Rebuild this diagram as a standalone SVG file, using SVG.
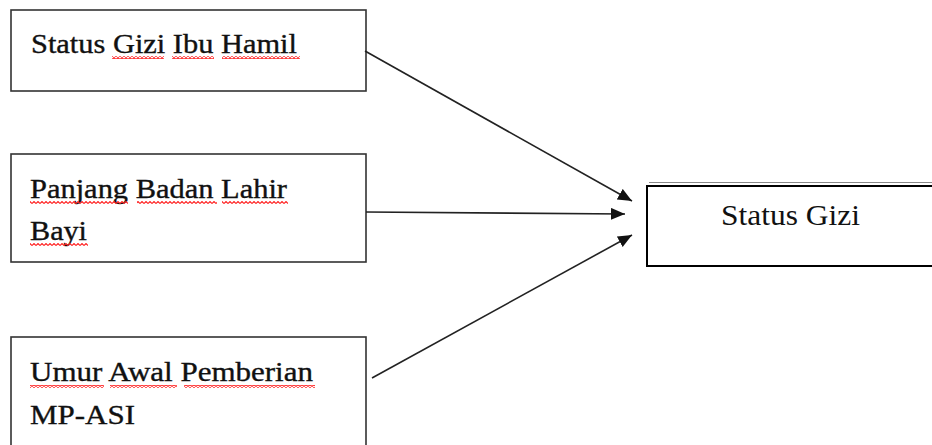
<svg xmlns="http://www.w3.org/2000/svg" width="932" height="445" viewBox="0 0 932 445">
<style>
.box{fill:#fff;stroke:#333;stroke-width:1.6}
.t{font-family:"Liberation Serif","Times New Roman",serif;fill:#111}
.l{font-size:27px;stroke:#111;stroke-width:0.35}
.c{stroke:#222;stroke-width:1.6;fill:none}
</style>
<defs>
<marker id="ah" viewBox="0 0 14 12" refX="14" refY="6" markerWidth="14" markerHeight="12" markerUnits="userSpaceOnUse" orient="auto">
<path d="M0,0 L14,6 L0,12 Z" fill="#111"/>
</marker>
<pattern id="wave" width="4" height="3" patternUnits="userSpaceOnUse">
<path d="M0,2.5 L2,0.5 L4,2.5" fill="none" stroke="#f22" stroke-width="1.1"/>
</pattern>
</defs>
<rect width="932" height="445" fill="#fff"/>
<g id="node-ibu">
<rect class="box" x="11" y="10" width="355" height="81"/>
<text class="t l" x="31" y="53" textLength="266" lengthAdjust="spacingAndGlyphs">Status Gizi Ibu Hamil</text>
<rect x="112" y="56" width="52" height="3" fill="url(#wave)"/>
<rect x="172" y="56" width="42" height="3" fill="url(#wave)"/>
<rect x="222" y="56" width="78" height="3" fill="url(#wave)"/>
</g>
<g id="node-panjang">
<rect class="box" x="11" y="154" width="355" height="108"/>
<text class="t l" x="30" y="198" textLength="257" lengthAdjust="spacingAndGlyphs">Panjang Badan Lahir</text>
<text class="t l" x="30" y="240" textLength="57" lengthAdjust="spacingAndGlyphs">Bayi</text>
<rect x="30" y="201" width="98" height="3" fill="url(#wave)"/>
<rect x="137" y="201" width="80" height="3" fill="url(#wave)"/>
<rect x="222" y="201" width="66" height="3" fill="url(#wave)"/>
<rect x="30" y="243" width="58" height="3" fill="url(#wave)"/>
</g>
<g id="node-umur">
<rect class="box" x="11" y="337" width="355" height="120"/>
<text class="t l" x="30" y="381" textLength="283" lengthAdjust="spacingAndGlyphs">Umur Awal Pemberian</text>
<text class="t l" x="30" y="424" textLength="105" lengthAdjust="spacingAndGlyphs">MP-ASI</text>
<rect x="30" y="385" width="74" height="3" fill="url(#wave)"/>
<rect x="110" y="385" width="67" height="3" fill="url(#wave)"/>
<rect x="184" y="385" width="131" height="3" fill="url(#wave)"/>
</g>
<g id="node-status">
<line x1="649" y1="182.5" x2="932" y2="182.5" stroke="#888" stroke-width="1"/>
<rect x="647" y="186" width="300" height="80" fill="#fff" stroke="#000" stroke-width="2"/>
<text class="t" x="721" y="225" font-size="29" textLength="139" lengthAdjust="spacingAndGlyphs">Status Gizi</text>
</g>
<g id="connectors">
<line class="c" x1="365" y1="51" x2="632" y2="201" marker-end="url(#ah)"/>
<line class="c" x1="366" y1="212" x2="625" y2="214" marker-end="url(#ah)"/>
<line class="c" x1="372" y1="378" x2="632" y2="235" marker-end="url(#ah)"/>
</g>
</svg>
